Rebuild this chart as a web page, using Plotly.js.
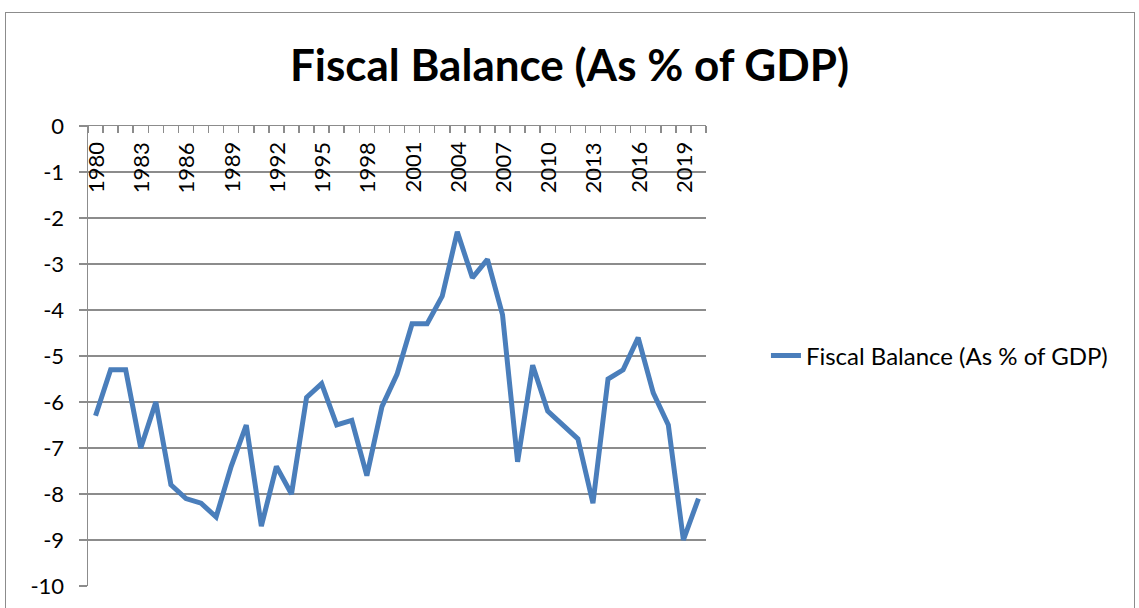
<!DOCTYPE html>
<html>
<head>
<meta charset="utf-8">
<script src="https://cdn.plot.ly/plotly-3.0.1.min.js"></script>
<style>
  html, body { margin: 0; padding: 0; background: #fff; overflow: hidden; }
  #frame { position: absolute; left: 5px; top: 12px; width: 1130px; height: 600px;
           border: 1.5px solid #8c8c8c; box-sizing: border-box; }
  #chart { width: 100%; height: 100%; }
</style>
</head>
<body>
<div id="frame"><div id="chart"></div></div>
<script>
const years = [1980,1981,1982,1983,1984,1985,1986,1987,1988,1989,1990,1991,1992,1993,1994,1995,1996,1997,1998,1999,
               2000,2001,2002,2003,2004,2005,2006,2007,2008,2009,2010,2011,2012,2013,2014,2015,2016,2017,2018,2019,2020];
const fiscalBalance = [-6.3,-5.3,-5.3,-7.0,-6.0,-7.8,-8.1,-8.2,-8.5,-7.4,-6.5,-8.7,-7.4,-8.0,-5.9,-5.6,-6.5,-6.4,-7.6,-6.1,
                       -5.4,-4.3,-4.3,-3.7,-2.3,-3.3,-2.9,-4.1,-7.3,-5.2,-6.2,-6.5,-6.8,-8.2,-5.5,-5.3,-4.6,-5.8,-6.5,-9.0,-8.1];
const xTickYears = [1980,1983,1986,1989,1992,1995,1998,2001,2004,2007,2010,2013,2016,2019];
const yTicks = [0,-1,-2,-3,-4,-5,-6,-7,-8,-9,-10];
const seriesName = 'Fiscal Balance (As % of GDP)';
const chartTitle = 'Fiscal Balance (As % of GDP)';

const font = 'Lato, "Open Sans", sans-serif';

const trace = {
  x: years, y: fiscalBalance, type: 'scatter', mode: 'lines', name: seriesName,
  line: { color: '#4a7ebb', width: 5 }
};

// x tick labels drawn below the top axis line (inside the plot), rotated
const xLabelAnnotations = xTickYears.map(yr => ({
  x: yr, xref: 'x', y: 1, yref: 'paper', yanchor: 'top', xanchor: 'center',
  yshift: -14, text: String(yr), textangle: -90, showarrow: false,
  font: { family: font, size: 22, color: '#000' }
}));

const layout = {
  width: 1127, height: 597,
  margin: { l: 82, r: 427, t: 113, b: 24 },
  paper_bgcolor: '#fff', plot_bgcolor: '#fff',
  font: { family: font, color: '#000' },
  title: { text: '<b>' + chartTitle + '</b>', x: 0.5, xref: 'container', xanchor: 'center',
           y: 1 - 53/597, yref: 'container', yanchor: 'middle',
           font: { family: font, size: 44, color: '#000' } },
  showlegend: true,
  legend: { x: 1.097, y: 0.5, xanchor: 'left', yanchor: 'middle',
            font: { family: font, size: 24, color: '#000' }, bgcolor: 'rgba(0,0,0,0)' },
  annotations: xLabelAnnotations,
  xaxis: {
    type: 'linear', range: [1979.5, 2020.5], side: 'top',
    showticklabels: false, ticks: '',
    showgrid: false, zeroline: false,
    showline: true, linecolor: '#8c8c8c', linewidth: 1.5,
    minor: { tick0: 1979.5, dtick: 1, ticks: 'inside', ticklen: 7, tickcolor: '#8c8c8c', tickwidth: 1.5, showgrid: false }
  },
  yaxis: {
    range: [-10, 0], tickvals: yTicks, ticktext: yTicks.map(String),
    ticks: 'outside', ticklen: 8, tickcolor: '#8c8c8c', tickwidth: 1.5,
    ticklabelstandoff: 10,
    tickfont: { family: font, size: 22, color: '#000' },
    showgrid: true, gridcolor: '#8c8c8c', gridwidth: 1.5,
    zeroline: false, showline: true, linecolor: '#8c8c8c', linewidth: 1.5
  }
};

Plotly.newPlot('chart', [trace], layout, { displayModeBar: false, staticPlot: true });
</script>
</body>
</html>
